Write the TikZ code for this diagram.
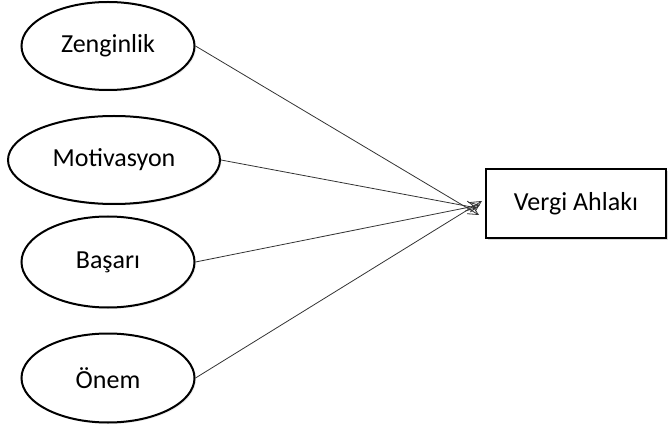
\documentclass[tikz,border=0pt]{standalone}
\usepackage{fontspec}
\setmainfont{Carlito}
\usepackage{tikz}
\usetikzlibrary{shapes, shadows, arrows.meta}

\begin{document}
\begin{tikzpicture}[x=1pt, y=-1pt]
% define variables
\pgfmathparse{173}\let\w=\pgfmathresult
\tikzset{
  factor/.style={ellipse, draw, line width=2pt, inner sep=0pt, minimum width=\w pt, minimum height=88pt, fill=white,
    font=\fontsize{26}{30}\selectfont, drop shadow={opacity=0.15, shadow xshift=1.5pt, shadow yshift=-1.5pt}},
  link/.style={black!80, line width=0.8pt, -{Straight Barb[length=10pt, width=10pt]}}
}
\useasboundingbox (0,0) rectangle (668,427);

% draw factors
\node (zeng) [factor] at (108, 46) {Zenginlik};
\node (moti) [factor, minimum width=212pt] at (114, 160) {Motivasyon};
\node (basa) [factor, minimum height=91pt] at (108, 262) {Başarı};
\node (onem) [factor, minimum height=89pt] at (108, 378) {Önem};

% draw outcome box
\node (vergi) [draw, line width=2pt, fill=white, minimum width=180pt, minimum height=69pt, inner sep=0pt,
  font=\fontsize{26}{30}\selectfont, drop shadow={opacity=0.3, shadow xshift=2pt, shadow yshift=-2pt}]
  at (576, 204) {Vergi Ahlakı};

% draw arrows
\draw[link] (zeng.east) -- ([xshift=-6pt, yshift=-11pt]vergi.west);
\draw[link] (moti.east) -- ([xshift=-8pt, yshift=-4pt]vergi.west);
\draw[link] (basa.east) -- ([xshift=-5pt, yshift=-1pt]vergi.west);
\draw[link] (onem.east) -- ([xshift=-3pt, yshift=3pt]vergi.west);

\end{tikzpicture}
\end{document}
